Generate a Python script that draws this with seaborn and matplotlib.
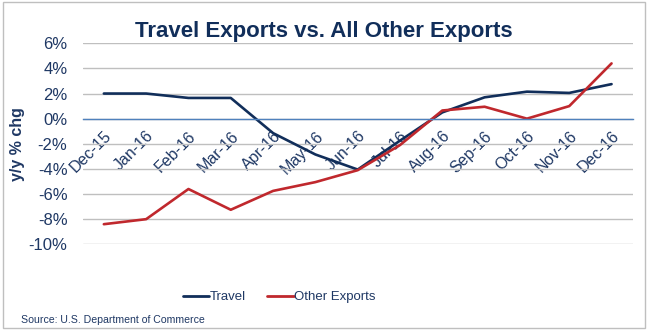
import matplotlib
matplotlib.use("Agg")
import matplotlib.pyplot as plt
import seaborn as sns
import pandas as pd
import numpy as np
from matplotlib.lines import Line2D

months = ["Dec-15", "Jan-16", "Feb-16", "Mar-16", "Apr-16", "May-16", "Jun-16",
          "Jul-16", "Aug-16", "Sep-16", "Oct-16", "Nov-16", "Dec-16"]
travel = [2.0, 2.0, 1.65, 1.65, -1.15, -2.85, -4.05, -1.75, 0.5, 1.7, 2.15, 2.05, 2.75]
other = [-8.4, -8.0, -5.6, -7.25, -5.75, -5.05, -4.1, -2.1, 0.65, 0.95, 0.0, 1.0, 4.4]
yticks = [-10, -8, -6, -4, -2, 0, 2, 4, 6]

navy = "#112E5A"
red = "#C0282D"
text_col = "#1F3864"

sns.set_theme(style="white")
plt.rcParams["font.family"] = ["Liberation Sans", "DejaVu Sans"]

df = pd.DataFrame({
    "x": list(range(len(months))) * 2,
    "value": travel + other,
    "series": ["Travel"] * len(months) + ["Other Exports"] * len(months),
})

fig = plt.figure(figsize=(6.48, 3.30), dpi=100)
ax = fig.add_axes([0.1276, 0.2597, 0.8488, 0.6091])

sns.lineplot(data=df, x="x", y="value", hue="series", palette=[navy, red],
             linewidth=1.9, sort=False, ax=ax, legend=False)

ax.set_xlim(-0.5, len(months) - 0.5)
ax.set_ylim(-10, 6)
ax.set_yticks(yticks)
ax.set_yticklabels([f"{v}%" for v in yticks], fontsize=12, color=text_col)
ax.yaxis.grid(True, color="#BFBFBF", linewidth=1.0)
ax.set_axisbelow(True)
for s in ["top", "right", "left"]:
    ax.spines[s].set_visible(False)
ax.spines["bottom"].set_position(("data", 0))
ax.spines["bottom"].set_color("#4F81BD")
ax.spines["bottom"].set_linewidth(1.0)
ax.tick_params(axis="y", length=0, pad=11)

ax.set_xticks(np.arange(-0.5, len(months), 1.0))
ax.set_xticklabels([])
ax.tick_params(axis="x", which="major", direction="out", length=4, color="#4F81BD", width=1.0)
ax.set_xticks(range(len(months)), minor=True)
ax.set_xticklabels(months, minor=True, rotation=45, ha="right", va="top",
                   rotation_mode="anchor", fontsize=11.5, color=text_col)
ax.tick_params(axis="x", which="minor", length=0, pad=7)
ax.set_xlabel("")
ax.set_ylabel("y/y % chg", fontsize=11.5, fontweight="bold", color=text_col)
ax.yaxis.set_label_coords(-0.104, 0.5)

fig.text(0.5, 0.905, "Travel Exports vs. All Other Exports", ha="center", va="center",
         fontsize=16, fontweight="bold", color=navy)

handles = [Line2D([0], [0], color=navy, lw=2), Line2D([0], [0], color=red, lw=2)]
leg = fig.legend(handles, ["Travel", "Other Exports"], loc="center left",
                 bbox_to_anchor=(0.264, 0.10),
                 ncol=2, frameon=False, fontsize=9.5, handlelength=2.0, handletextpad=0.05,
                 columnspacing=1.6)
for t in leg.get_texts():
    t.set_color(text_col)

fig.text(0.032, 0.03, "Source: U.S. Department of Commerce", fontsize=7.6, color=text_col,
         ha="left", va="center")

border = plt.Rectangle((0.004, 0.006), 0.992, 0.988, transform=fig.transFigure, fill=False,
                       edgecolor="#BFBFBF", linewidth=1.0)
fig.patches.append(border)

fig.savefig("out.png", dpi=100)
